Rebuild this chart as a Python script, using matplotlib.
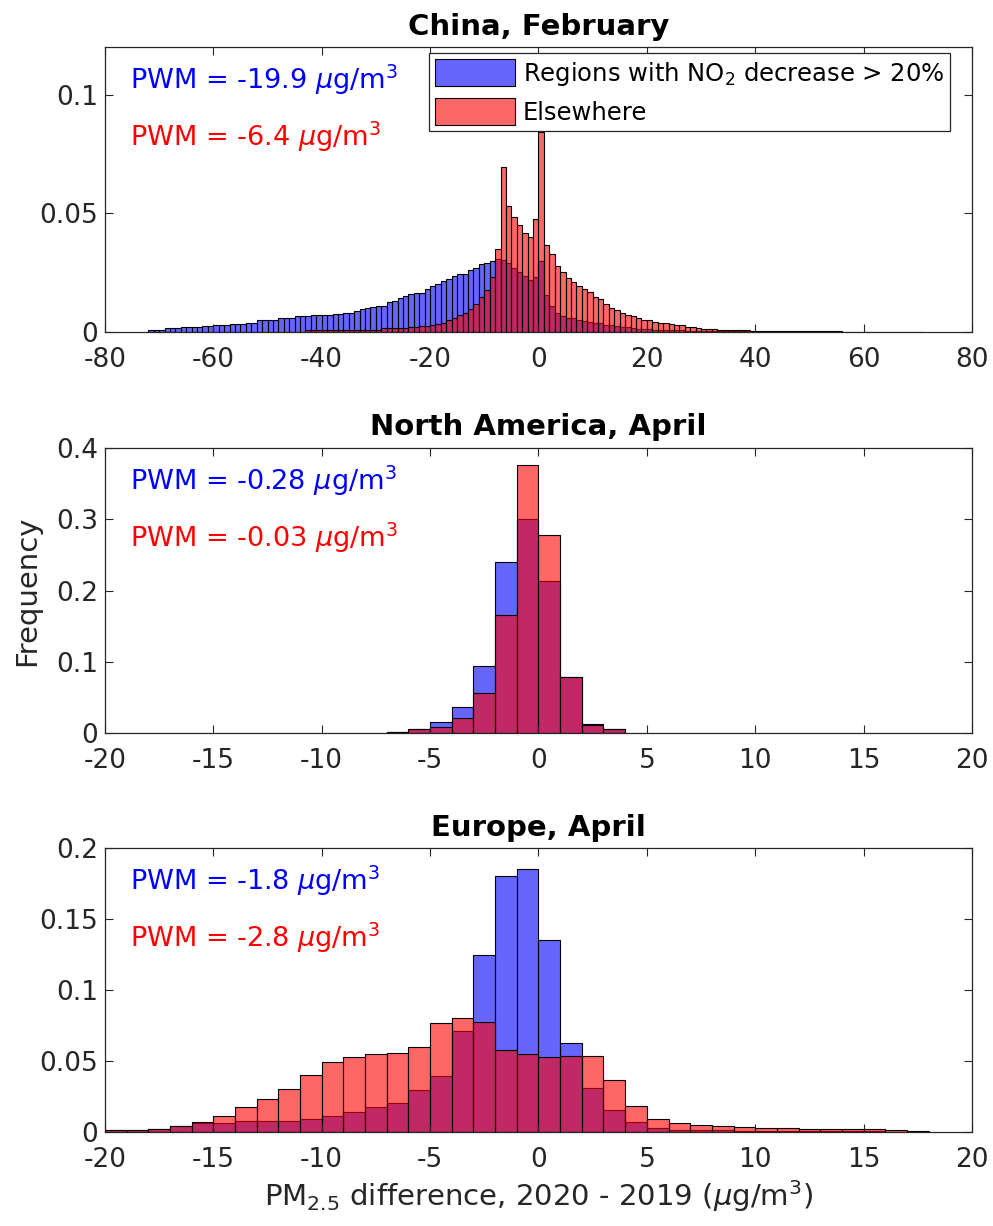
import numpy as np
import matplotlib
matplotlib.use("Agg")
import matplotlib.pyplot as plt
from matplotlib.ticker import FormatStrFormatter

plt.rcParams['font.family'] = ['DejaVu Sans']
plt.rcParams['axes.unicode_minus'] = False
plt.rcParams['mathtext.fontset'] = 'dejavusans'

# ---- China, February (1 ug/m3 bins) ----
china_blue_from = -72
china_blue = [
    0.0006, 0.0006, 0.0006, 0.0014, 0.0014, 0.0014, 0.0018, 0.0018, 0.0018, 0.0021,
    0.0024, 0.0024, 0.0028, 0.0028, 0.0028, 0.0032, 0.0034, 0.0034, 0.0039, 0.0039,
    0.0048, 0.0048, 0.0048, 0.0050, 0.0058, 0.0060, 0.0060, 0.0066, 0.0066, 0.0066,
    0.0069, 0.0069, 0.0069, 0.0072, 0.0077, 0.0077, 0.0081, 0.0081, 0.0087, 0.0094,
    0.0100, 0.0105, 0.0109, 0.0109, 0.0124, 0.0129, 0.0141, 0.0152, 0.0159, 0.0163,
    0.0163, 0.0181, 0.0195, 0.0200, 0.0215, 0.0224, 0.0234, 0.0244, 0.0244, 0.0260,
    0.0271, 0.0286, 0.0292, 0.0297, 0.0309, 0.0303, 0.0292, 0.0271, 0.0250, 0.0234,
    0.0217, 0.0229, 0.0300, 0.0157, 0.0109, 0.0081, 0.0066, 0.0060, 0.0056, 0.0049,
    0.0045, 0.0042, 0.0038, 0.0035, 0.0028, 0.0027, 0.0025, 0.0021, 0.0018, 0.0016,
    0.0013, 0.0012, 0.0010, 0.0009, 0.0008, 0.0008, 0.0007, 0.0006, 0.0006, 0.0005,
    0.0005, 0.0004, 0.0004, 0.0003, 0.0003, 0.0003, 0.0003, 0.0003, 0.0003, 0.0003,
    0.0003, 0.0003, 0.0003, 0.0002, 0.0002, 0.0002, 0.0002, 0.0002, 0.0002, 0.0002,
    0.0002, 0.0002, 0.0002, 0.0002, 0.0002, 0.0002, 0.0002, 0.0002, 0.0001, 0.0001,
    0.0001, 0.0001, 0.0001, 0.0001, 0.0001, 0.0001, 0.0001, 0.0001, 0.0001, 0.0001,
    0.0001, 0.0001, 0.0001,
]
china_red_from = -43
china_red = [
    0.0007, 0.0007, 0.0007, 0.0007, 0.0007, 0.0007, 0.0007, 0.0007, 0.0007, 0.0007,
    0.0007, 0.0007, 0.0007, 0.0007, 0.0014, 0.0014, 0.0014, 0.0014, 0.0014, 0.0021,
    0.0021, 0.0025, 0.0025, 0.0027, 0.0032, 0.0038, 0.0049, 0.0060, 0.0070, 0.0081,
    0.0098, 0.0115, 0.0145, 0.0178, 0.0232, 0.0351, 0.0697, 0.0530, 0.0484, 0.0450,
    0.0417, 0.0400, 0.0476, 0.0842, 0.0368, 0.0330, 0.0278, 0.0250, 0.0227, 0.0212,
    0.0194, 0.0180, 0.0166, 0.0145, 0.0137, 0.0117, 0.0100, 0.0091, 0.0079, 0.0071,
    0.0065, 0.0057, 0.0049, 0.0049, 0.0043, 0.0038, 0.0035, 0.0032, 0.0027, 0.0027,
    0.0021, 0.0021, 0.0017, 0.0013, 0.0013, 0.0013, 0.0007, 0.0007, 0.0007, 0.0007,
    0.0007, 0.0007,
]

# ---- North America, April ----
na_from = -7
na_blue = [0.002, 0.006, 0.016, 0.037, 0.094, 0.240, 0.300, 0.213, 0.078, 0.013, 0.005]
na_red = [0.002, 0.005, 0.008, 0.021, 0.056, 0.166, 0.376, 0.278, 0.078, 0.011, 0.005]

# ---- Europe, April ----
eu_from = -20
eu_blue = [
    0.0012, 0.0010, 0.0020, 0.0040, 0.0064, 0.0064, 0.0075, 0.0075, 0.0075, 0.0087,
    0.0110, 0.0139, 0.0176, 0.0202, 0.0296, 0.0393, 0.0714, 0.1245, 0.1807, 0.1852,
    0.1355, 0.0628, 0.0306, 0.0151, 0.0066, 0.0024, 0.0014, 0.0010, 0.0009, 0.0007,
    0.0005, 0.0004, 0.0003, 0.0003, 0.0002, 0.0002, 0.0001, 0.0001,
]
eu_red = [
    0.0012, 0.0012, 0.0020, 0.0040, 0.0068, 0.0110, 0.0176, 0.0230, 0.0300, 0.0400,
    0.0490, 0.0525, 0.0546, 0.0553, 0.0600, 0.0766, 0.0799, 0.0772, 0.0576, 0.0548,
    0.0529, 0.0536, 0.0536, 0.0367, 0.0179, 0.0089, 0.0059, 0.0050, 0.0042, 0.0033,
    0.0024, 0.0024, 0.0022, 0.0020, 0.0018, 0.0016, 0.0012, 0.0004,
]

titles = ['China, February', 'North America, April', 'Europe, April']
pwm_blue = ['-19.9', '-0.28', '-1.8']
pwm_red = ['-6.4', '-0.03', '-2.8']
xlims = [(-80, 80), (-20, 20), (-20, 20)]
ylims = [0.12, 0.4, 0.2]
xticks = [np.arange(-80, 81, 20), np.arange(-20, 21, 5), np.arange(-20, 21, 5)]
yticks = [[0, 0.05, 0.1], [0, 0.1, 0.2, 0.3, 0.4], [0, 0.05, 0.1, 0.15, 0.2]]

blue_face = (0, 0, 1, 0.6)
red_face = (1, 0, 0, 0.6)
axcol = '#262626'

fig = plt.figure(figsize=(9.93, 12.26), dpi=100)
positions = [[0.1057, 0.7294, 0.8731, 0.2320],
             [0.1057, 0.4021, 0.8731, 0.2325],
             [0.1057, 0.0769, 0.8731, 0.2312]]

data = [(china_blue_from, china_blue, china_red_from, china_red),
        (na_from, na_blue, na_from, na_red),
        (eu_from, eu_blue, eu_from, eu_red)]

for i, pos in enumerate(positions):
    ax = fig.add_axes(pos)
    bfrom, bvals, rfrom, rvals = data[i]
    hb = ax.bar(np.arange(bfrom, bfrom + len(bvals)), bvals, width=1, align='edge',
                facecolor=blue_face, edgecolor='black', linewidth=0.8)
    hr = ax.bar(np.arange(rfrom, rfrom + len(rvals)), rvals, width=1, align='edge',
                facecolor=red_face, edgecolor='black', linewidth=0.8)
    ax.set_xlim(*xlims[i])
    ax.set_ylim(0, ylims[i])
    ax.set_xticks(xticks[i])
    ax.set_yticks(yticks[i])
    ax.yaxis.set_major_formatter(FormatStrFormatter('%g'))
    ax.tick_params(direction='in', length=6, width=0.8, top=True, right=True,
                   labelsize=19, colors=axcol)
    ax.tick_params(axis='x', pad=11)
    ax.tick_params(axis='y', pad=5)
    for s in ax.spines.values():
        s.set_color(axcol)
        s.set_linewidth(0.9)
    ax.set_title(titles[i], fontsize=21, fontweight='bold', pad=9)
    ax.text(0.029, 0.853, 'PWM = ' + pwm_blue[i] + r' $\mu$g/m$^3$', color='blue',
            fontsize=19.5, transform=ax.transAxes, va='baseline')
    ax.text(0.029, 0.652, 'PWM = ' + pwm_red[i] + r' $\mu$g/m$^3$', color='red',
            fontsize=19.5, transform=ax.transAxes, va='baseline')
    if i == 0:
        leg = ax.legend([hb, hr], [r'Regions with NO$_2$ decrease > 20%', 'Elsewhere'],
                        loc='upper right', bbox_to_anchor=(0.975, 0.98), fontsize=17.5,
                        fancybox=False, framealpha=1, edgecolor=axcol,
                        handlelength=3.3, handleheight=1.35, borderaxespad=0,
                        borderpad=0.25, labelspacing=0.42, handletextpad=0.3)
        leg.get_frame().set_linewidth(0.9)
    if i == 1:
        ax.set_ylabel('Frequency', fontsize=21, color=axcol, labelpad=11)
    if i == 2:
        ax.set_xlabel(r'PM$_{2.5}$ difference, 2020 - 2019 ($\mu$g/m$^3$)',
                      fontsize=21, color=axcol, labelpad=4)

fig.savefig('out.png', dpi=100)
